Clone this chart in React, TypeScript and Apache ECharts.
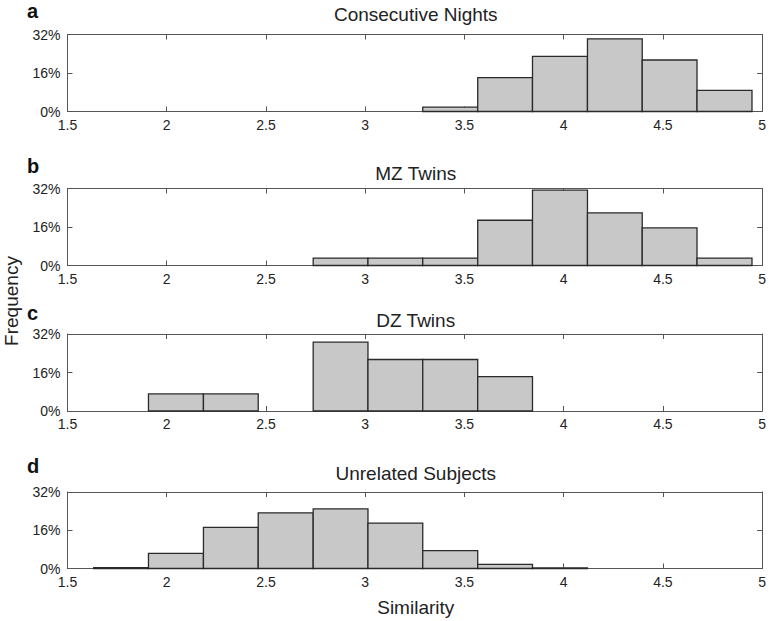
import React, { useEffect, useRef } from "react";
import * as echarts from "echarts";

// Histogram bin edges (similarity)
const binEdges = [1.632, 1.908, 2.185, 2.461, 2.738, 3.014, 3.29, 3.567, 3.843, 4.12, 4.396, 4.672, 4.949];

// Frequency (%) per bin
const consecutiveNights = [0, 0, 0, 0, 0, 0, 1.8, 14.1, 22.9, 30.2, 21.4, 8.8];
const mzTwins = [0, 0, 0, 0, 3.1, 3.1, 3.1, 18.8, 31.3, 21.9, 15.6, 3.1];
const dzTwins = [0, 7.1, 7.1, 0, 28.6, 21.4, 21.4, 14.3, 0, 0, 0, 0];
const unrelatedSubjects = [0.4, 6.3, 17.2, 23.3, 24.9, 19.0, 7.5, 1.7, 0.3, 0, 0, 0];

const panelTitles = ["Consecutive Nights", "MZ Twins", "DZ Twins", "Unrelated Subjects"];
const panelLetters = ["a", "b", "c", "d"];
const panelSeries = [consecutiveNights, mzTwins, dzTwins, unrelatedSubjects];

const xTicks = { min: 1.5, max: 5, interval: 0.5 };
const yTicks = { min: 0, max: 32, interval: 16 };

const FONT = "'Liberation Sans', Arial, Helvetica, sans-serif";

export default function App() {
  const ref = useRef<HTMLDivElement>(null);

  useEffect(() => {
    if (!ref.current) return;
    const chart = echarts.init(ref.current, null, { renderer: "svg" });

    const gridLayout = [
      { top: 34.5, height: 77 },
      { top: 188.5, height: 77 },
      { top: 334, height: 77 },
      { top: 492, height: 76.5 },
    ];
    const titleY = [14, 173.4, 320.7, 473.4];
    const letterY = [10.5, 166.4, 312.6, 466.4];

    const axisLineColor = "#555";
    const textColor = "#222";

    const grid = gridLayout.map((g) => ({ left: 67.5, right: 5, top: g.top, height: g.height }));
    const xAxis: any[] = [];
    const yAxis: any[] = [];
    const series: any[] = [];

    panelSeries.forEach((vals, i) => {
      const common = {
        type: "value",
        gridIndex: i,
        min: xTicks.min,
        max: xTicks.max,
        interval: xTicks.interval,
        splitLine: { show: false },
        axisLine: { show: true, onZero: false, lineStyle: { color: axisLineColor, width: 1 } },
        axisTick: { show: true, inside: true, length: 5, lineStyle: { color: axisLineColor } },
      };
      xAxis.push({
        ...common,
        position: "bottom",
        axisLabel: {
          show: true,
          color: textColor,
          fontFamily: FONT,
          fontSize: 14,
          margin: 6,
          formatter: (v: number) => String(v),
        },
      });
      xAxis.push({ ...common, position: "top", axisLabel: { show: false } });

      const ycommon = {
        type: "value",
        gridIndex: i,
        min: yTicks.min,
        max: yTicks.max,
        interval: yTicks.interval,
        splitLine: { show: false },
        axisLine: { show: true, onZero: false, lineStyle: { color: axisLineColor, width: 1 } },
        axisTick: { show: true, inside: true, length: 5, lineStyle: { color: axisLineColor } },
      };
      yAxis.push({
        ...ycommon,
        position: "left",
        axisLabel: { show: true, color: textColor, fontFamily: FONT, fontSize: 14, margin: 7, formatter: "{value}%" },
      });
      yAxis.push({ ...ycommon, position: "right", axisLabel: { show: false } });

      const data = vals
        .map((v, k) => [binEdges[k], binEdges[k + 1], v])
        .filter((d) => d[2] > 0);

      series.push({
        type: "custom",
        xAxisIndex: 2 * i,
        yAxisIndex: 2 * i,
        data,
        encode: { x: [0, 1], y: 2 },
        renderItem: (params: any, api: any) => {
          const x0 = api.value(0);
          const x1 = api.value(1);
          const y = api.value(2);
          const p0 = api.coord([x0, y]);
          const p1 = api.coord([x1, 0]);
          return {
            type: "rect",
            shape: { x: p0[0], y: p0[1], width: p1[0] - p0[0], height: p1[1] - p0[1] },
            style: { fill: "#c8c8c8", stroke: "#2a2a2a", lineWidth: 1.3 },
          };
        },
      });
    });

    const plotCenterX = 67.5 + (769 - 5 - 67.5) / 2;

    const graphic: any[] = [];
    panelTitles.forEach((t, i) => {
      graphic.push({
        type: "text",
        x: plotCenterX,
        y: titleY[i],
        style: {
          text: t,
          fill: textColor,
          font: `19px ${FONT}`,
          textAlign: "center",
          textVerticalAlign: "middle",
        },
      });
      graphic.push({
        type: "text",
        x: 27,
        y: letterY[i],
        style: {
          text: panelLetters[i],
          fill: "#111",
          font: `bold 20px ${FONT}`,
          textAlign: "left",
          textVerticalAlign: "middle",
        },
      });
    });
    graphic.push({
      type: "text",
      x: plotCenterX,
      y: 607.5,
      style: { text: "Similarity", fill: textColor, font: `19px ${FONT}`, textAlign: "center", textVerticalAlign: "middle" },
    });
    graphic.push({
      type: "text",
      x: 11.5,
      y: 301,
      rotation: Math.PI / 2,
      style: { text: "Frequency", fill: textColor, font: `19px ${FONT}`, textAlign: "center", textVerticalAlign: "middle" },
    });

    chart.setOption({
      animation: false,
      backgroundColor: "#ffffff",
      grid,
      xAxis,
      yAxis,
      series,
      graphic,
    });

    return () => chart.dispose();
  }, []);

  return (
    <div
      ref={ref}
      style={{ position: "absolute", left: 0, top: 0, width: 769, height: 621 }}
    />
  );
}
